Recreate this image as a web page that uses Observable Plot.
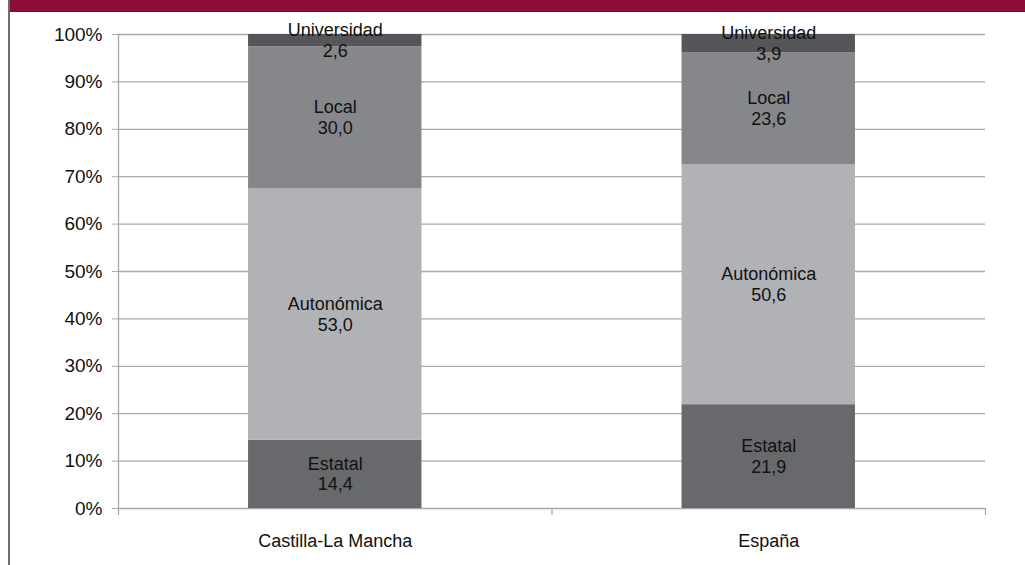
<!DOCTYPE html>
<html>
<head>
<meta charset="utf-8">
<script src="https://cdn.jsdelivr.net/npm/d3@7"></script>
<script src="https://cdn.jsdelivr.net/npm/@observablehq/plot@0.6"></script>
<style>
  html, body { margin: 0; padding: 0; background: #fff; }
  #wrap { position: relative; width: 1025px; height: 565px; overflow: hidden; background: #fff; }
  #band { position: absolute; left: 9px; top: 0; width: 1016px; height: 11px; background: #8c0f3a; border-bottom: 1px solid #3a2530; z-index: 2; }
  #leftline { position: absolute; left: 8px; top: 0; width: 2px; height: 565px; background: #6e6e6e; z-index: 2; }
  #chart { position: absolute; left: 0; top: 0; }
</style>
</head>
<body>
<div id="wrap">
  <div id="band"></div>
  <div id="leftline"></div>
  <div id="chart"></div>
</div>
<script>
const categories = ["Castilla-La Mancha", "España"];
const sectors = ["Estatal", "Autonómica", "Local", "Universidad"];
const castillaValues = [14.4, 53.0, 30.0, 2.6];
const espanaValues = [21.9, 50.6, 23.6, 3.9];
const yTicks = [0, 10, 20, 30, 40, 50, 60, 70, 80, 90, 100];

const sectorColors = ["#68696d", "#b1b2b5", "#86878b", "#55565a"];
const gridColor = "#a9a9a9";

// Build stacked table
const seriesByCategory = [castillaValues, espanaValues];
const rows = [];
categories.forEach((cat, ci) => {
  let acc = 0;
  seriesByCategory[ci].forEach((v, si) => {
    rows.push({category: cat, ci, sector: sectors[si], value: v, y1: acc, y2: acc + v});
    acc += v;
  });
});
const fmt = v => v.toFixed(1).replace(".", ",");

const chart = Plot.plot({
  width: 1025,
  height: 565,
  marginTop: 34,
  marginBottom: 57,
  marginLeft: 118,
  marginRight: 40,
  x: {domain: [0, categories.length], axis: null},
  y: {domain: [0, 100], axis: null},
  color: {domain: sectors, range: sectorColors},
  style: {fontFamily: "'Liberation Sans', Arial, sans-serif", fontSize: "18px", background: "transparent", color: "#111"},
  marks: [
    Plot.ruleY(yTicks, {stroke: gridColor, strokeWidth: 1.3}),
    Plot.ruleX([0], {stroke: gridColor, strokeWidth: 1.3}),
    Plot.axisY({ticks: yTicks, tickSize: 6, tickPadding: 10, tickFormat: d => `${d}%`, stroke: gridColor, fill: "#111", fontSize: 19}),
    Plot.axisX({ticks: d3.range(categories.length + 1), tickSize: 7, tickFormat: () => "", stroke: gridColor, strokeWidth: 1.3}),
    Plot.rect(rows, {
      x1: d => d.ci + 0.3,
      x2: d => d.ci + 0.7,
      y1: "y1",
      y2: "y2",
      fill: "sector"
    }),
    Plot.text(rows, {
      x: d => d.ci + 0.5,
      y: d => (d.y1 + d.y2) / 2,
      text: d => `${d.sector}\n${fmt(d.value)}`,
      lineHeight: 1.15,
      fontSize: 18,
      dy: -1,
      fill: "#111"
    }),
    Plot.text(categories, {
      x: (d, i) => i + 0.5,
      y: 0,
      dy: 33,
      text: d => d,
      fontSize: 18,
      fill: "#111"
    })
  ]
});
document.getElementById("chart").appendChild(chart);
</script>
</body>
</html>
